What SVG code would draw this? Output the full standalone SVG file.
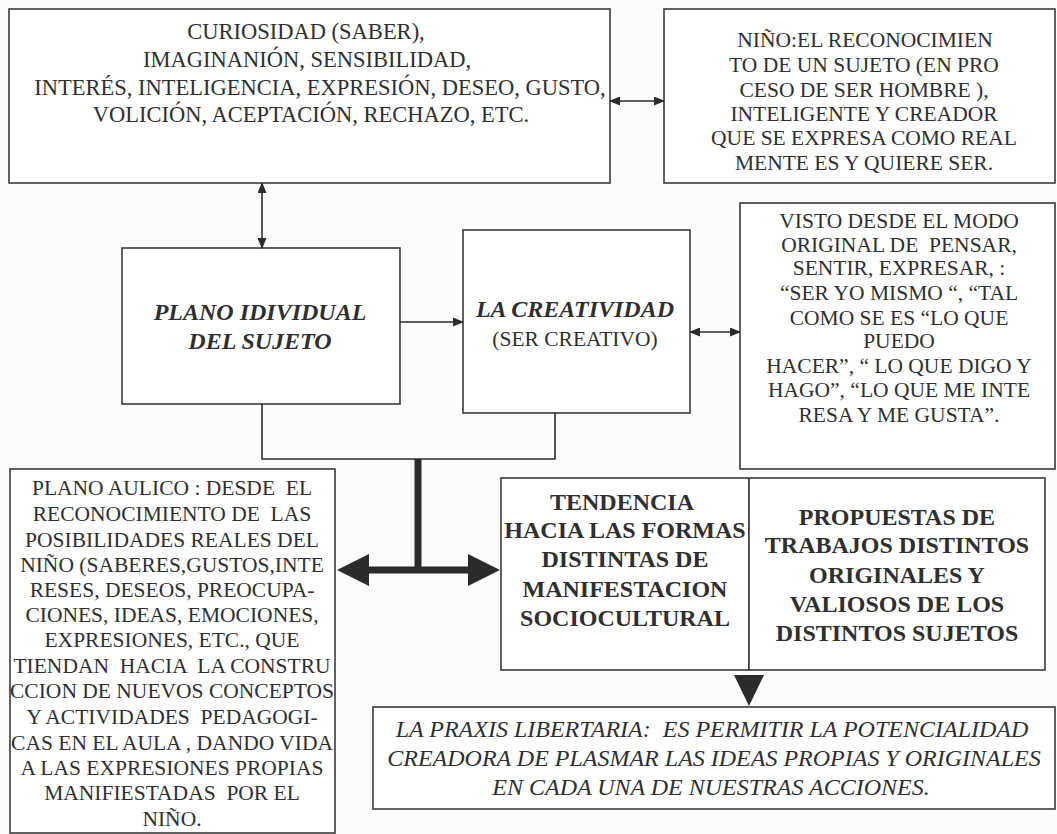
<svg xmlns="http://www.w3.org/2000/svg" width="1057" height="834" viewBox="0 0 1057 834">
<defs>
<marker id="ah" markerUnits="userSpaceOnUse" markerWidth="11" markerHeight="9" refX="10" refY="4.5" orient="auto-start-reverse">
<path d="M0,0 L11,4.5 L0,9 z" fill="#2b2b2b"/>
</marker>
</defs>
<style>
.box{fill:#ffffff;stroke:#3a3a3a;stroke-width:1.6}
text{white-space:pre}
.t{font-family:"Liberation Serif","Times New Roman",serif;font-size:21.5px;fill:#2f2f2f;text-anchor:middle}
.t1{font-size:22.5px}
.b{font-family:"Liberation Serif","Times New Roman",serif;font-size:24px;font-weight:bold;fill:#2f2f2f;text-anchor:middle}
.bi{font-family:"Liberation Serif","Times New Roman",serif;font-size:24px;font-weight:bold;font-style:italic;fill:#2f2f2f;text-anchor:middle}
.i{font-family:"Liberation Serif","Times New Roman",serif;font-size:24px;font-style:italic;fill:#2f2f2f;text-anchor:middle}
.ln{fill:none;stroke:#2b2b2b;stroke-width:1.6}
.thick{fill:none;stroke:#2b2b2b;stroke-width:7}
</style>
<rect width="1057" height="834" fill="#fcfcfc"/>

<g id="node-cualidades">
<rect class="box" x="9" y="9" width="601" height="174"/>
<text class="t t1" x="306" y="39">CURIOSIDAD (SABER),</text>
<text class="t t1" x="307" y="67">IMAGINANIÓN, SENSIBILIDAD,</text>
<text class="t t1" x="320" y="95">INTERÉS, INTELIGENCIA, EXPRESIÓN, DESEO, GUSTO,</text>
<text class="t t1" x="311" y="122">VOLICIÓN, ACEPTACIÓN, RECHAZO, ETC.</text>
</g>

<g id="node-nino">
<rect class="box" x="664" y="9" width="391" height="174"/>
<text class="t" x="865" y="47">NIÑO:EL RECONOCIMIEN</text>
<text class="t" x="864" y="72">TO DE UN SUJETO (EN PRO</text>
<text class="t" x="864" y="97">CESO DE SER HOMBRE ),</text>
<text class="t" x="864" y="121">INTELIGENTE Y CREADOR</text>
<text class="t" x="864" y="145">QUE SE EXPRESA COMO REAL</text>
<text class="t" x="864" y="170">MENTE ES Y QUIERE SER.</text>
</g>

<g id="node-plano-individual">
<rect class="box" x="122" y="248" width="278" height="156"/>
<text class="bi" x="260" y="320">PLANO IDIVIDUAL</text>
<text class="bi" x="260" y="349">DEL SUJETO</text>
</g>

<g id="node-creatividad">
<rect class="box" x="463" y="230" width="227" height="183"/>
<text class="bi" x="575" y="317">LA CREATIVIDAD</text>
<text class="t" x="575" y="346">(SER CREATIVO)</text>
</g>

<g id="node-visto">
<rect class="box" x="740" y="203" width="315" height="266"/>
<text class="t" x="899" y="228">VISTO DESDE EL MODO</text>
<text class="t" x="899" y="252">ORIGINAL DE  PENSAR,</text>
<text class="t" x="899" y="275">SENTIR, EXPRESAR, :</text>
<text class="t" x="899" y="300">“SER YO MISMO “, “TAL</text>
<text class="t" x="899" y="325">COMO SE ES “LO QUE</text>
<text class="t" x="899" y="348">PUEDO</text>
<text class="t" x="899" y="373">HACER”, “ LO QUE DIGO Y</text>
<text class="t" x="899" y="397">HAGO”, “LO QUE ME INTE</text>
<text class="t" x="899" y="422">RESA Y ME GUSTA”.</text>
</g>

<g id="node-plano-aulico">
<rect class="box" x="10" y="469" width="325" height="364"/>
<text class="t" x="172" y="495">PLANO AULICO : DESDE  EL</text>
<text class="t" x="172" y="521">RECONOCIMIENTO DE  LAS</text>
<text class="t" x="172" y="547">POSIBILIDADES REALES DEL</text>
<text class="t" x="172" y="572">NIÑO (SABERES,GUSTOS,INTE</text>
<text class="t" x="172" y="597">RESES, DESEOS, PREOCUPA-</text>
<text class="t" x="172" y="622">CIONES, IDEAS, EMOCIONES,</text>
<text class="t" x="172" y="647">EXPRESIONES, ETC., QUE</text>
<text class="t" x="172" y="673">TIENDAN  HACIA  LA CONSTRU</text>
<text class="t" x="172" y="698">CCION DE NUEVOS CONCEPTOS</text>
<text class="t" x="172" y="724">Y ACTIVIDADES  PEDAGOGI-</text>
<text class="t" x="172" y="750">CAS EN EL AULA , DANDO VIDA</text>
<text class="t" x="172" y="775">A LAS EXPRESIONES PROPIAS</text>
<text class="t" x="172" y="800">MANIFIESTADAS  POR EL</text>
<text class="t" x="172" y="826">NIÑO.</text>
</g>

<g id="node-tendencia">
<rect class="box" x="501" y="478" width="248" height="192"/>
<text class="b" x="622" y="510">TENDENCIA</text>
<text class="b" x="625" y="538">HACIA LAS FORMAS</text>
<text class="b" x="625" y="567">DISTINTAS DE</text>
<text class="b" x="625" y="597">MANIFESTACION</text>
<text class="b" x="625" y="626">SOCIOCULTURAL</text>
</g>

<g id="node-propuestas">
<rect class="box" x="749" y="478" width="296" height="192"/>
<text class="b" x="897" y="525">PROPUESTAS DE</text>
<text class="b" x="897" y="553">TRABAJOS DISTINTOS</text>
<text class="b" x="897" y="583">ORIGINALES Y</text>
<text class="b" x="897" y="612">VALIOSOS DE LOS</text>
<text class="b" x="897" y="641">DISTINTOS SUJETOS</text>
</g>

<g id="node-praxis">
<rect class="box" x="373" y="707" width="682" height="102"/>
<text class="i" x="712" y="737">LA PRAXIS LIBERTARIA:  ES PERMITIR LA POTENCIALIDAD</text>
<text class="i" x="714" y="766">CREADORA DE PLASMAR LAS IDEAS PROPIAS Y ORIGINALES</text>
<text class="i" x="711" y="795">EN CADA UNA DE NUESTRAS ACCIONES.</text>
</g>

<g id="connectors">
<line class="ln" x1="610" y1="101" x2="664" y2="101" marker-start="url(#ah)" marker-end="url(#ah)"/>
<line class="ln" x1="262" y1="183" x2="262" y2="248" marker-start="url(#ah)" marker-end="url(#ah)"/>
<line class="ln" x1="400" y1="322" x2="463" y2="322" marker-end="url(#ah)"/>
<line class="ln" x1="690" y1="332" x2="740" y2="332" marker-start="url(#ah)" marker-end="url(#ah)"/>
<polyline class="ln" points="262,404 262,459 555,459 555,413"/>
<line class="thick" x1="418" y1="459" x2="418" y2="570"/>
<line class="thick" x1="362" y1="570" x2="474" y2="570"/>
<polygon points="337,570 369,554 369,586" fill="#2b2b2b"/>
<polygon points="500,570 468,554 468,586" fill="#2b2b2b"/>
<polygon points="734,675 764,675 749,706" fill="#2b2b2b"/>
</g>
</svg>
